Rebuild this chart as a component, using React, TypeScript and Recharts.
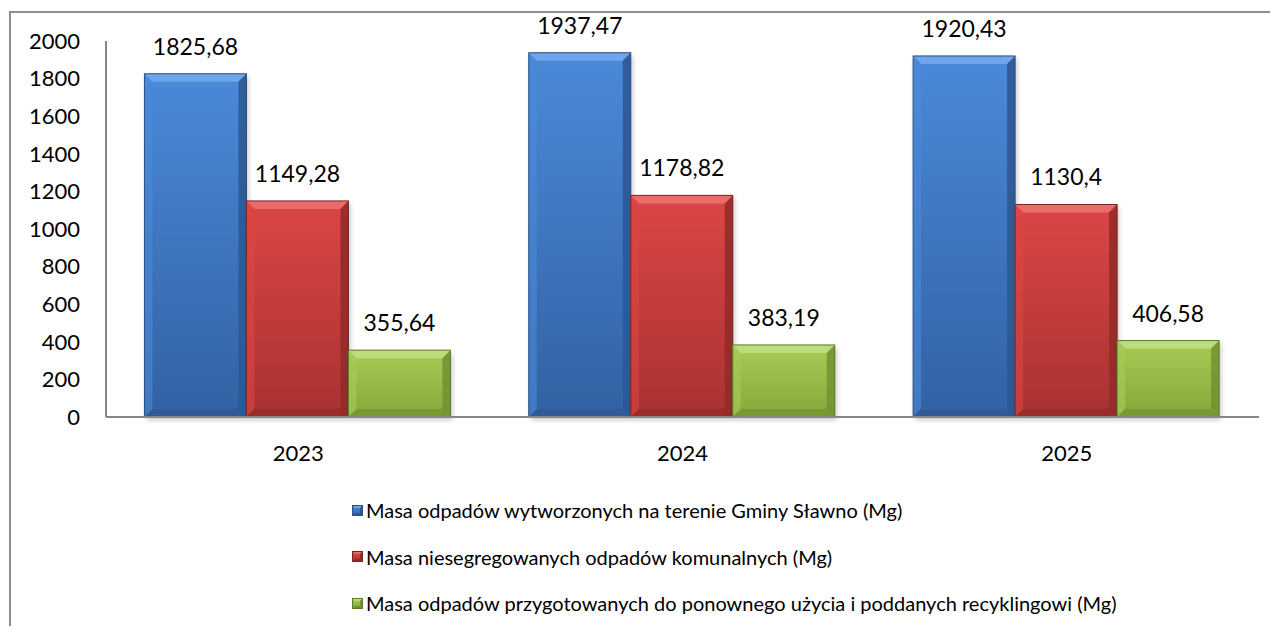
import {BarChart, Bar, XAxis, YAxis, Legend, LabelList} from 'recharts';

const years = ['2023', '2024', '2025'];
const generated = [1825.68, 1937.47, 1920.43];
const unsegregated = [1149.28, 1178.82, 1130.4];
const recycled = [355.64, 383.19, 406.58];
const yTicks = [0, 200, 400, 600, 800, 1000, 1200, 1400, 1600, 1800, 2000];

const seriesNames = [
  'Masa odpadów wytworzonych na terenie Gminy Sławno (Mg)',
  'Masa niesegregowanych odpadów komunalnych (Mg)',
  'Masa odpadów przygotowanych do ponownego użycia i poddanych recyklingowi (Mg)',
];

const FONT = 'Lato, "Open Sans", sans-serif';

const palette = [
  {id: 'blue', top: '#4a8ad9', bottom: '#3361a3', light: '#6fa5ea', dark: '#2d5791', edge: '#2c4f80'},
  {id: 'red', top: '#dc4645', bottom: '#a83231', light: '#ea6c6a', dark: '#902a29', edge: '#7a2524'},
  {id: 'green', top: '#a6cc55', bottom: '#84a83b', light: '#bddc7c', dark: '#71922f', edge: '#5f7a26'},
];

const data = years.map((year, i) => ({
  year,
  s0: generated[i],
  s1: unsegregated[i],
  s2: recycled[i],
}));

const fmt = (v: number) => String(v).replace('.', ',');

function BevelBar(props: any, idx: number) {
  const {x, y, width: w, height: h} = props;
  if (!w || !h) return null;
  const c = palette[idx];
  const b = Math.min(8, h / 3);
  return (
    <g>
      <rect x={x + 2} y={y + 3} width={w} height={h} fill="#000" opacity={0.22} filter="url(#shadow)" />
      <rect x={x} y={y} width={w} height={h} fill={`url(#grad-${c.id})`} />
      <polygon points={`${x},${y} ${x + w},${y} ${x + w - b},${y + b} ${x + b},${y + b}`} fill={c.light} />
      <polygon points={`${x},${y} ${x + b},${y + b} ${x + b},${y + h - b} ${x},${y + h}`} fill={c.top} opacity={0.6} />
      <polygon points={`${x + w},${y} ${x + w},${y + h} ${x + w - b},${y + h - b} ${x + w - b},${y + b}`} fill={c.dark} opacity={0.85} />
      <polygon points={`${x},${y + h} ${x + b},${y + h - b} ${x + w - b},${y + h - b} ${x + w},${y + h}`} fill={c.dark} opacity={0.7} />
      <rect x={x} y={y} width={w} height={h} fill="none" stroke={c.edge} strokeWidth={1} />
    </g>
  );
}

function LegendMarker({i}: {i: number}) {
  const c = palette[i];
  return (
    <svg width={11} height={11} style={{marginRight: 3, flex: 'none'}}>
      <rect x={0} y={0} width={11} height={11} fill={`url(#grad-${c.id})`} />
      <polygon points="0,0 11,0 8,3 3,3" fill={c.light} />
      <polygon points="11,0 11,11 8,8 8,3" fill={c.dark} />
      <polygon points="0,11 3,8 8,8 11,11" fill={c.dark} />
      <rect x={0.5} y={0.5} width={10} height={10} fill="none" stroke={c.edge} strokeWidth={1} />
    </svg>
  );
}

function LegendBox() {
  return (
    <div style={{fontFamily: FONT, fontSize: 20, color: '#000'}}>
      {seriesNames.map((name, i) => (
        <div key={name} style={{display: 'flex', alignItems: 'center', height: 46.5, whiteSpace: 'nowrap'}}>
          <LegendMarker i={i} />
          <span>{name}</span>
        </div>
      ))}
    </div>
  );
}

export default function App() {
  return (
    <div style={{position: 'relative', width: 1278, height: 634, overflow: 'hidden', background: '#fff', margin: -8}}>
      <div
        style={{
          position: 'absolute',
          left: 9,
          top: 11,
          width: 1400,
          height: 800,
          borderLeft: '2px solid #8f8f8f',
          borderTop: '2px solid #8f8f8f',
        }}
      />
      <svg width={0} height={0} style={{position: 'absolute'}}>
        <defs>
          {palette.map((c) => (
            <linearGradient key={c.id} id={`grad-${c.id}`} x1="0" y1="0" x2="0" y2="1">
              <stop offset="0%" stopColor={c.top} />
              <stop offset="100%" stopColor={c.bottom} />
            </linearGradient>
          ))}
          <filter id="shadow" x="-20%" y="-20%" width="140%" height="140%">
            <feGaussianBlur stdDeviation="2.5" />
          </filter>
        </defs>
      </svg>
      <div style={{position: 'absolute', left: 0, top: 0}}>
        <BarChart
          width={1278}
          height={634}
          data={data}
          margin={{top: 41, right: 19, bottom: 187, left: 0}}
          barCategoryGap="10%"
          barGap={0}
        >
          <XAxis
            dataKey="year"
            height={30}
            tickLine={false}
            tickSize={0}
            tickMargin={28}
            axisLine={{stroke: '#878787', strokeWidth: 2}}
            tick={{fill: '#000', fontSize: 22, fontFamily: FONT}}
          />
          <YAxis
            width={106}
            domain={[0, 2000]}
            ticks={yTicks}
            interval={0}
            tickLine={false}
            tickSize={0}
            tickMargin={26}
            axisLine={{stroke: '#878787', strokeWidth: 2}}
            tick={{fill: '#000', fontSize: 22, fontFamily: FONT}}
          />
          <Legend
            layout="vertical"
            align="center"
            verticalAlign="middle"
            wrapperStyle={{left: 352, top: 487, width: 900}}
            content={() => <LegendBox />}
          />
          {[0, 1, 2].map((i) => (
            <Bar
              key={i}
              dataKey={`s${i}`}
              name={seriesNames[i]}
              fill={palette[i].top}
              isAnimationActive={false}
              shape={(p: any) => BevelBar(p, i)}
            >
              <LabelList
                dataKey={`s${i}`}
                position="top"
                offset={19}
                formatter={(v: any) => fmt(v)}
                style={{fill: '#000', fontSize: 23, fontFamily: FONT}}
              />
            </Bar>
          ))}
        </BarChart>
      </div>
    </div>
  );
}
